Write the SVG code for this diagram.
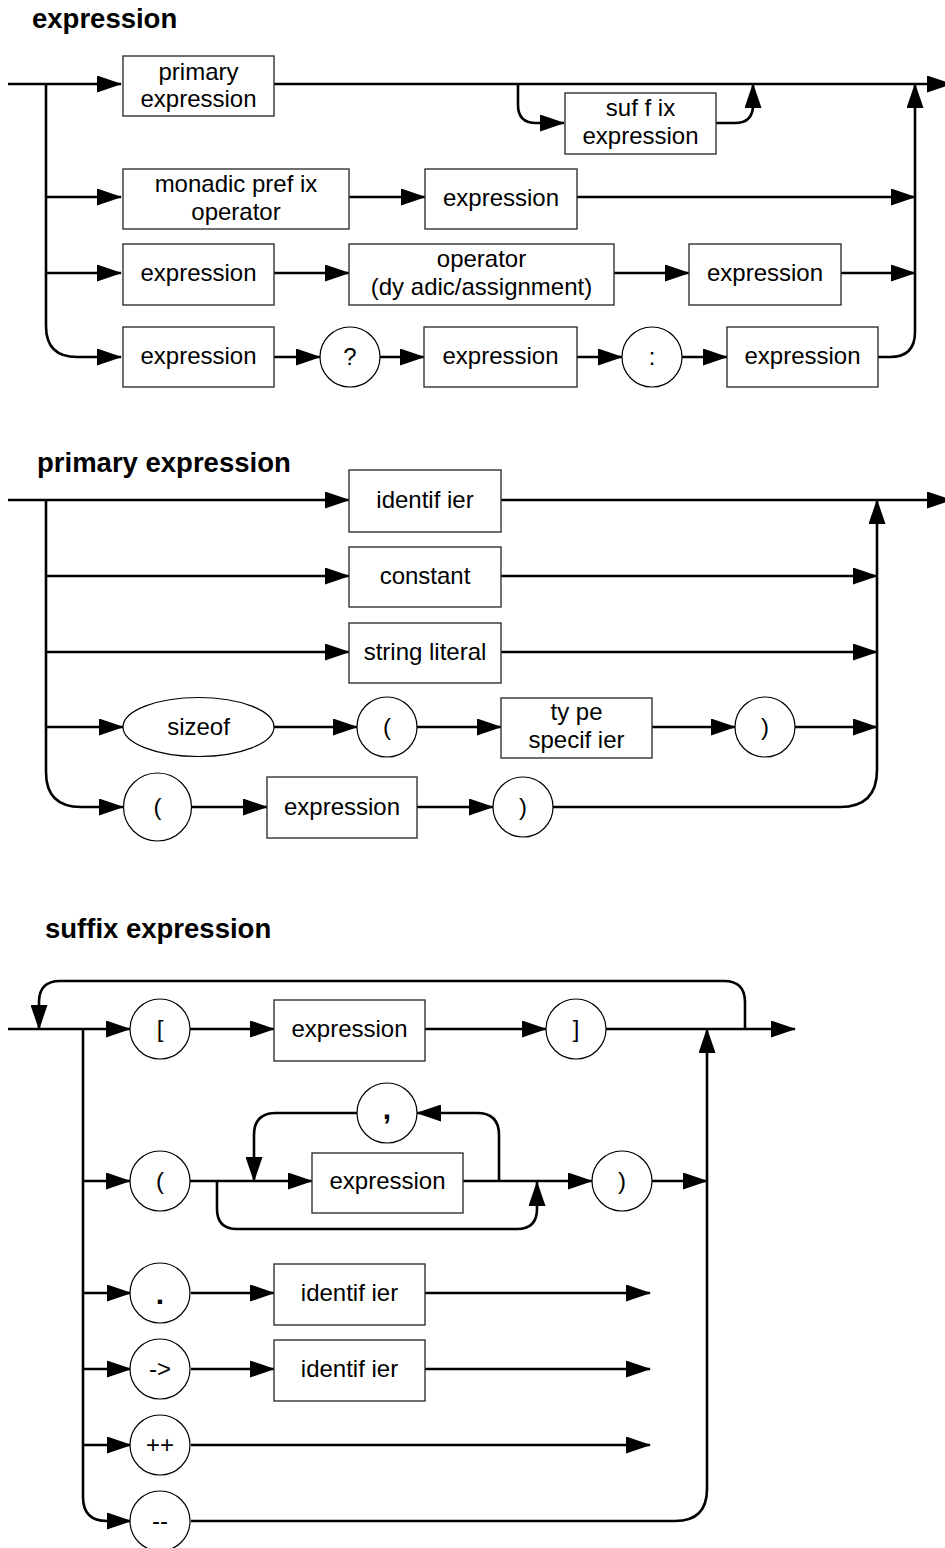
<svg xmlns="http://www.w3.org/2000/svg" width="945" height="1548" viewBox="0 0 945 1548">
  <style>
    .wire { fill: none; stroke: #000; stroke-width: 2.6; stroke-linejoin: round; }
    .arr { marker-end: url(#head); }
    .box { fill: #fff; stroke: #333; stroke-width: 1.4; }
    .term { fill: #fff; stroke: #000; stroke-width: 1.2; }
    text { font-family: "Liberation Sans", Arial, sans-serif; fill: #000; }
    .lbl { font-size: 24px; text-anchor: middle; }
    .punct { font-size: 30px; font-weight: bold; text-anchor: middle; }
    .title { font-size: 27.5px; font-weight: bold; }
  </style>
  <defs>
    <marker id="head" viewBox="0 0 25 17" refX="24" refY="8.5" markerWidth="25" markerHeight="17" markerUnits="userSpaceOnUse" orient="auto">
      <path d="M0,0 L25,8.5 L0,17 Z" fill="#000"/>
    </marker>
  </defs>

  <rect width="945" height="1548" fill="#fff"/>

  <!-- section titles -->
  <text class="title" x="32" y="28">expression</text>
  <text class="title" x="37" y="472">primary expression</text>
  <text class="title" x="45" y="938">suffix expression</text>

  <g id="connectors">
    <!-- expression -->
    <path class="wire arr" d="M8,84 H121"/>
    <path class="wire arr" d="M274,84 H951"/>
    <path class="wire arr" d="M46,84 V326 Q46,357 77,357 H121"/>
    <path class="wire arr" d="M518,84 V105 Q518,123 536,123 H564"/>
    <path class="wire arr" d="M716,123 H735 Q753,123 753,105 V84"/>
    <path class="wire arr" d="M46,197 H121"/>
    <path class="wire arr" d="M349,197 H425"/>
    <path class="wire arr" d="M577,197 H915"/>
    <path class="wire arr" d="M46,273 H121"/>
    <path class="wire arr" d="M274,273 H349"/>
    <path class="wire arr" d="M614,273 H689"/>
    <path class="wire arr" d="M841,273 H915"/>
    <path class="wire arr" d="M274,357 H320"/>
    <path class="wire arr" d="M380,357 H424"/>
    <path class="wire arr" d="M577,357 H622"/>
    <path class="wire arr" d="M682,357 H727"/>
    <path class="wire arr" d="M878,357 H890 Q915,357 915,332 V84"/>

    <!-- primary expression -->
    <path class="wire arr" d="M8,500 H349"/>
    <path class="wire arr" d="M501,500 H951"/>
    <path class="wire arr" d="M46,500 V772 Q46,807 81,807 H123"/>
    <path class="wire arr" d="M46,576 H349"/>
    <path class="wire arr" d="M501,576 H877"/>
    <path class="wire arr" d="M46,652 H349"/>
    <path class="wire arr" d="M501,652 H877"/>
    <path class="wire arr" d="M46,727 H123"/>
    <path class="wire arr" d="M274,727 H357"/>
    <path class="wire arr" d="M417,727 H501"/>
    <path class="wire arr" d="M652,727 H735"/>
    <path class="wire arr" d="M795,727 H877"/>
    <path class="wire arr" d="M191,807 H267"/>
    <path class="wire arr" d="M417,807 H493"/>
    <path class="wire arr" d="M553,807 H840 Q877,807 877,770 V500"/>

    <!-- suffix expression -->
    <path class="wire arr" d="M8,1029 H130"/>
    <path class="wire arr" d="M745,1029 V1002 Q745,981 724,981 H60 Q39,981 39,1002 V1029"/>
    <path class="wire arr" d="M83,1029 V1497 Q83,1521 107,1521 H131"/>
    <path class="wire arr" d="M190,1029 H274"/>
    <path class="wire arr" d="M425,1029 H546"/>
    <path class="wire arr" d="M606,1029 H795"/>
    <path class="wire arr" d="M191,1521 H675 Q707,1521 707,1489 V1029"/>
    <path class="wire arr" d="M83,1181 H130"/>
    <path class="wire arr" d="M190,1181 H312"/>
    <path class="wire arr" d="M217,1181 V1209 Q217,1229 237,1229 H517 Q537,1229 537,1209 V1182"/>
    <path class="wire arr" d="M499,1181 V1135 Q499,1113 477,1113 H417"/>
    <path class="wire arr" d="M357,1113 H276 Q254,1113 254,1135 V1181"/>
    <path class="wire arr" d="M463,1181 H592"/>
    <path class="wire arr" d="M652,1181 H707"/>
    <path class="wire arr" d="M83,1293 H131"/>
    <path class="wire arr" d="M191,1293 H274"/>
    <path class="wire arr" d="M425,1293 H650"/>
    <path class="wire arr" d="M83,1369 H131"/>
    <path class="wire arr" d="M191,1369 H274"/>
    <path class="wire arr" d="M425,1369 H650"/>
    <path class="wire arr" d="M83,1445 H131"/>
    <path class="wire arr" d="M191,1445 H650"/>
  </g>

  <!-- expression -->
  <g id="e-primary">
    <rect class="box" x="123" y="56" width="151" height="60"/>
    <text class="lbl" x="198.5" y="80">primary</text>
    <text class="lbl" x="198.5" y="107">expression</text>
  </g>
  <g id="e-suffix">
    <rect class="box" x="565" y="93" width="151" height="61"/>
    <text class="lbl" x="640.5" y="116">suf f ix</text>
    <text class="lbl" x="640.5" y="144">expression</text>
  </g>
  <g id="e-monadic">
    <rect class="box" x="123" y="169" width="226" height="60"/>
    <text class="lbl" x="236" y="192">monadic pref ix</text>
    <text class="lbl" x="236" y="220">operator</text>
  </g>
  <g id="e-monadic-operand">
    <rect class="box" x="425" y="169" width="152" height="60"/>
    <text class="lbl" x="501" y="206">expression</text>
  </g>
  <g id="e-dyadic-left">
    <rect class="box" x="123" y="244" width="151" height="61"/>
    <text class="lbl" x="198.5" y="281">expression</text>
  </g>
  <g id="e-dyadic-op">
    <rect class="box" x="349" y="244" width="265" height="61"/>
    <text class="lbl" x="481.5" y="267">operator</text>
    <text class="lbl" x="481.5" y="295">(dy adic/assignment)</text>
  </g>
  <g id="e-dyadic-right">
    <rect class="box" x="689" y="244" width="152" height="61"/>
    <text class="lbl" x="765" y="281">expression</text>
  </g>
  <g id="e-cond">
    <rect class="box" x="123" y="327" width="151" height="60"/>
    <text class="lbl" x="198.5" y="364">expression</text>
  </g>
  <g id="e-question">
    <circle class="term" cx="350" cy="357" r="30"/>
    <text class="lbl" x="350" y="365">?</text>
  </g>
  <g id="e-then">
    <rect class="box" x="424" y="327" width="153" height="60"/>
    <text class="lbl" x="500.5" y="364">expression</text>
  </g>
  <g id="e-colon">
    <circle class="term" cx="652" cy="357" r="30"/>
    <text class="lbl" x="652" y="365">:</text>
  </g>
  <g id="e-else">
    <rect class="box" x="727" y="327" width="151" height="60"/>
    <text class="lbl" x="802.5" y="364">expression</text>
  </g>

  <!-- primary expression -->
  <g id="p-identifier">
    <rect class="box" x="349" y="470" width="152" height="62"/>
    <text class="lbl" x="425" y="508">identif ier</text>
  </g>
  <g id="p-constant">
    <rect class="box" x="349" y="547" width="152" height="60"/>
    <text class="lbl" x="425" y="584">constant</text>
  </g>
  <g id="p-string">
    <rect class="box" x="349" y="623" width="152" height="60"/>
    <text class="lbl" x="425" y="660">string literal</text>
  </g>
  <g id="p-sizeof">
    <ellipse class="term" cx="198.5" cy="727" rx="75.5" ry="29.5"/>
    <text class="lbl" x="198.5" y="735">sizeof</text>
  </g>
  <g id="p-sizeof-open">
    <circle class="term" cx="387" cy="727" r="30"/>
    <text class="lbl" x="387" y="735">(</text>
  </g>
  <g id="p-type">
    <rect class="box" x="501" y="698" width="151" height="60"/>
    <text class="lbl" x="576.5" y="720">ty pe</text>
    <text class="lbl" x="576.5" y="748">specif ier</text>
  </g>
  <g id="p-sizeof-close">
    <circle class="term" cx="765" cy="727" r="30"/>
    <text class="lbl" x="765" y="735">)</text>
  </g>
  <g id="p-paren-open">
    <circle class="term" cx="157.5" cy="807" r="34"/>
    <text class="lbl" x="157.5" y="815">(</text>
  </g>
  <g id="p-paren-expr">
    <rect class="box" x="267" y="777" width="150" height="61"/>
    <text class="lbl" x="342" y="815">expression</text>
  </g>
  <g id="p-paren-close">
    <circle class="term" cx="523" cy="807" r="30"/>
    <text class="lbl" x="523" y="815">)</text>
  </g>

  <!-- suffix expression -->
  <g id="s-bracket-open">
    <circle class="term" cx="160" cy="1029" r="30"/>
    <text class="lbl" x="160" y="1037">[</text>
  </g>
  <g id="s-index">
    <rect class="box" x="274" y="1000" width="151" height="61"/>
    <text class="lbl" x="349.5" y="1037">expression</text>
  </g>
  <g id="s-bracket-close">
    <circle class="term" cx="576" cy="1029" r="30"/>
    <text class="lbl" x="576" y="1037">]</text>
  </g>
  <g id="s-call-open">
    <circle class="term" cx="160" cy="1181" r="30"/>
    <text class="lbl" x="160" y="1189">(</text>
  </g>
  <g id="s-comma">
    <circle class="term" cx="387" cy="1113" r="30"/>
    <text class="punct" x="387" y="1119">,</text>
  </g>
  <g id="s-argument">
    <rect class="box" x="312" y="1153" width="151" height="60"/>
    <text class="lbl" x="387.5" y="1189">expression</text>
  </g>
  <g id="s-call-close">
    <circle class="term" cx="622" cy="1181" r="30"/>
    <text class="lbl" x="622" y="1189">)</text>
  </g>
  <g id="s-dot">
    <circle class="term" cx="160" cy="1293" r="30"/>
    <text class="punct" x="160" y="1304">.</text>
  </g>
  <g id="s-dot-member">
    <rect class="box" x="274" y="1264" width="151" height="61"/>
    <text class="lbl" x="349.5" y="1301">identif ier</text>
  </g>
  <g id="s-arrow">
    <circle class="term" cx="160" cy="1369" r="30"/>
    <text class="lbl" x="160" y="1377">-&gt;</text>
  </g>
  <g id="s-arrow-member">
    <rect class="box" x="274" y="1340" width="151" height="61"/>
    <text class="lbl" x="349.5" y="1377">identif ier</text>
  </g>
  <g id="s-increment">
    <circle class="term" cx="160" cy="1445" r="30"/>
    <text class="lbl" x="160" y="1453">++</text>
  </g>
  <g id="s-decrement">
    <circle class="term" cx="160" cy="1521" r="30"/>
    <text class="lbl" x="160" y="1529">--</text>
  </g>
</svg>
